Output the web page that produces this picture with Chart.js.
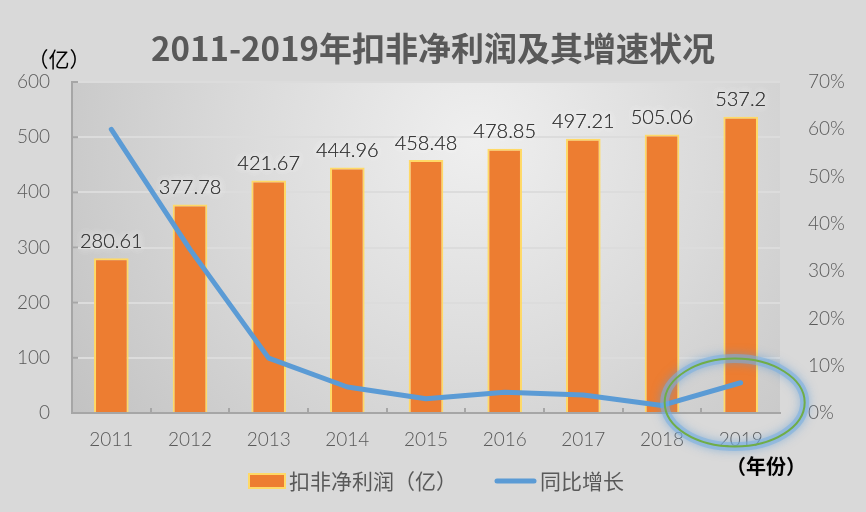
<!DOCTYPE html>
<html>
<head>
<meta charset="utf-8">
<script src="https://cdn.jsdelivr.net/npm/chart.js@4/dist/chart.umd.min.js"></script>
<style>
  html, body { margin: 0; padding: 0; background: #d9d9d9; }
  #wrap { width: 866px; height: 512px; }
</style>
</head>
<body>
<div id="wrap"><canvas id="c" width="866" height="512"></canvas></div>
<script>
// data
const years = ['2011', '2012', '2013', '2014', '2015', '2016', '2017', '2018', '2019'];
const profit = [280.61, 377.78, 421.67, 444.96, 458.48, 478.85, 497.21, 505.06, 537.2];
const growth = [60.0, 34.6, 11.6, 5.5, 3.0, 4.4, 3.8, 1.6, 6.4];
const profitLabels = ['280.61', '377.78', '421.67', '444.96', '458.48', '478.85', '497.21', '505.06', '537.2'];

const titleText = '2011-2019年扣非净利润及其增速状况';
const leftUnit = '（亿）';
const bottomUnit = '（年份）';

const numFont = "Lato, 'DejaVu Sans', sans-serif";
const cjkFont = "'Noto Sans CJK SC', sans-serif";
const textGray = '#595959';

// background + plot area gradient
const backdrop = {
  id: 'backdrop',
  beforeDraw(chart) {
    const { ctx, chartArea: a } = chart;
    ctx.save();
    ctx.fillStyle = '#d9d9d9';
    ctx.fillRect(0, 0, chart.width, chart.height);
    const cx = a.left + (a.right - a.left) * 0.57;
    const cy = a.top + 60;
    const g = ctx.createRadialGradient(cx, cy, 0, cx, cy, 480);
    g.addColorStop(0, '#efefef');
    g.addColorStop(0.5, '#dadada');
    g.addColorStop(1, '#c3c3c3');
    ctx.fillStyle = g;
    ctx.fillRect(a.left, a.top, a.right - a.left, a.bottom - a.top);
    ctx.restore();
  }
};

// inner tick marks, bar value labels, titles, legend, highlight
const marks = {
  id: 'marks',
  afterDatasetsDraw(chart) {
    const { ctx, chartArea: a, scales } = chart;
    ctx.save();
    ctx.strokeStyle = '#a6a6a6';
    ctx.lineWidth = 2;
    for (let v = 100; v <= 600; v += 100) {
      const y = scales.y.getPixelForValue(v);
      ctx.beginPath();
      ctx.moveTo(a.left, y);
      ctx.lineTo(a.left + 6, y);
      ctx.stroke();
    }
    const step = (a.right - a.left) / years.length;
    for (let i = 1; i < years.length; i++) {
      const x = Math.round(a.left + step * i);
      ctx.beginPath();
      ctx.moveTo(x, a.bottom);
      ctx.lineTo(x, a.bottom - 5);
      ctx.stroke();
    }
    const bars = chart.getDatasetMeta(1).data;
    ctx.font = '300 20px ' + numFont;
    ctx.textAlign = 'center';
    ctx.textBaseline = 'bottom';
    bars.forEach((bar, i) => {
      ctx.shadowColor = 'rgba(255,255,255,1)';
      ctx.shadowBlur = 8;
      ctx.fillStyle = '#3a3a3a';
      ctx.fillText(profitLabels[i], bar.x, bar.y - 7);
      ctx.fillText(profitLabels[i], bar.x, bar.y - 7);
    });
    ctx.restore();
  },
  afterDraw(chart) {
    const { ctx, chartArea: a, scales } = chart;
    ctx.save();
    ctx.fillStyle = textGray;
    ctx.font = 'bold 33px ' + cjkFont;
    ctx.textAlign = 'center';
    ctx.textBaseline = 'middle';
    ctx.fillText(titleText, 433, 48);
    ctx.fillStyle = '#000';
    ctx.font = '21px ' + cjkFont;
    ctx.fillText(leftUnit, 59, 59);
    ctx.font = 'bold 20px ' + cjkFont;
    ctx.fillText(bottomUnit, 766, 466);

    // legend
    const ly = 481;
    ctx.fillStyle = '#ED7D31';
    ctx.fillRect(249, ly - 7, 36, 14);
    ctx.strokeStyle = '#FFD966';
    ctx.lineWidth = 2;
    ctx.strokeRect(249, ly - 7, 36, 14);
    ctx.fillStyle = textGray;
    ctx.font = '21px ' + cjkFont;
    ctx.textAlign = 'left';
    ctx.fillText(chart.data.datasets[1].label, 289, ly);
    ctx.strokeStyle = '#5B9BD5';
    ctx.lineWidth = 5;
    ctx.lineCap = 'round';
    ctx.beginPath();
    ctx.moveTo(497, ly);
    ctx.lineTo(534, ly);
    ctx.stroke();
    ctx.fillText(chart.data.datasets[0].label, 540, ly);

    // highlight ellipse around the 2019 point, blue glow under a green ring
    const step = (a.right - a.left) / years.length;
    const ex = scales.x.getPixelForValue(years.length - 1) - 6;
    const ey = scales.y1.getPixelForValue(2.2);
    const rx = step * 0.89, ry = 44;
    ctx.shadowColor = 'rgba(91,155,213,1)';
    ctx.shadowBlur = 10;
    ctx.strokeStyle = 'rgba(120,175,225,0.55)';
    ctx.lineWidth = 9;
    ctx.beginPath();
    ctx.ellipse(ex, ey, rx, ry, 0, 0, Math.PI * 2);
    ctx.stroke();
    ctx.shadowBlur = 0;
    ctx.strokeStyle = '#70AD47';
    ctx.lineWidth = 2;
    ctx.beginPath();
    ctx.ellipse(ex, ey, rx, ry, 0, 0, Math.PI * 2);
    ctx.stroke();
    ctx.restore();
  }
};

const ctx = document.getElementById('c').getContext('2d');
new Chart(ctx, {
  data: {
    labels: years,
    datasets: [
      {
        type: 'line',
        label: '同比增长',
        data: growth,
        yAxisID: 'y1',
        borderColor: '#5B9BD5',
        borderWidth: 5,
        pointRadius: 0,
        tension: 0,
        borderCapStyle: 'round',
        borderJoinStyle: 'round',
        order: 0
      },
      {
        type: 'bar',
        label: '扣非净利润（亿）',
        data: profit,
        yAxisID: 'y',
        backgroundColor: '#ED7D31',
        borderColor: '#FFD966',
        borderWidth: 2,
        barPercentage: 0.44,
        categoryPercentage: 1,
        order: 1
      }
    ]
  },
  options: {
    responsive: false,
    animation: false,
    devicePixelRatio: 1,
    layout: { padding: { top: 82, left: 0, right: 0, bottom: 0 } },
    plugins: {
      legend: { display: false },
      title: { display: false },
      tooltip: { enabled: false }
    },
    scales: {
      x: {
        grid: { display: false, drawTicks: false },
        border: { color: '#a6a6a6', width: 2 },
        ticks: { color: textGray, font: { family: numFont, size: 19, weight: 300 }, padding: 15 },
        afterFit(s) { s.height = 99; }
      },
      y: {
        position: 'left',
        min: 0,
        max: 600,
        ticks: { stepSize: 100, color: textGray, font: { family: numFont, size: 19, weight: 300 }, padding: 22 },
        grid: { color: '#dcdcdc', lineWidth: 2, drawTicks: false },
        border: { color: '#a6a6a6', width: 2 },
        afterFit(s) { s.width = 72; }
      },
      y1: {
        position: 'right',
        min: 0,
        max: 70,
        ticks: {
          stepSize: 10,
          color: textGray,
          font: { family: numFont, size: 19, weight: 300 },
          padding: 28,
          callback: v => v + '%'
        },
        grid: { drawOnChartArea: false, drawTicks: false },
        border: { display: false },
        afterFit(s) { s.width = 86; }
      }
    }
  },
  plugins: [backdrop, marks]
});
</script>
</body>
</html>
